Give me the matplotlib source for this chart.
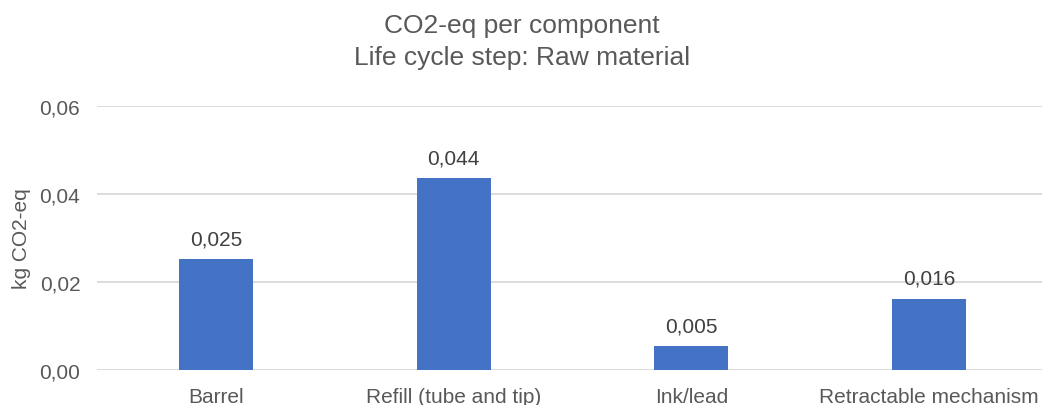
import matplotlib
matplotlib.use("Agg")
import matplotlib.pyplot as plt

plt.rcParams['font.family'] = ['Liberation Sans', 'DejaVu Sans']

components = ["Barrel", "Refill (tube and tip)", "Ink/lead", "Retractable mechanism"]
co2_eq = [0.0251, 0.0435, 0.0054, 0.0161]
value_labels = ["0,025", "0,044", "0,005", "0,016"]
y_ticks = [0.00, 0.02, 0.04, 0.06]
y_tick_labels = ["0,00", "0,02", "0,04", "0,06"]

W, H = 1042, 406
fig = plt.figure(figsize=(W / 100, H / 100), dpi=100)
# plot area in pixels: left 97, right ~1048, bottom 371, top 106.7
ax = fig.add_axes([97 / W, 35 / H, 951 / W, 264.3 / H])

x = range(len(components))
ax.bar(x, co2_eq, width=0.311, color="#4472C4", zorder=3)
for xi, v, lab in zip(x, co2_eq, value_labels):
    ax.annotate(lab, (xi, v), xytext=(0, 8), textcoords="offset points",
                ha="center", va="bottom", fontsize=15, color="#404040")

ax.set_xlim(-0.5, len(components) - 0.5)
ax.set_ylim(0, 0.06)
ax.set_yticks(y_ticks)
ax.set_yticklabels(y_tick_labels)
ax.set_xticks(list(x))
ax.set_xticklabels(components)
ax.tick_params(axis="both", length=0, labelsize=15, colors="#595959")
ax.tick_params(axis="y", pad=12)
ax.tick_params(axis="x", pad=12)
ax.grid(axis="y", color="#D9D9D9", linewidth=1.3, zorder=0)
for s in ax.spines.values():
    s.set_visible(False)
ax.set_ylabel("kg CO2-eq", fontsize=15, color="#595959", labelpad=6)

fig.text(0.5 + 1 / W, 1 - 26 / H, "CO2-eq per component", ha="center", va="center",
         fontsize=19, color="#595959")
fig.text(0.5 + 1 / W, 1 - 58 / H, "Life cycle step: Raw material", ha="center", va="center",
         fontsize=19, color="#595959")

fig.savefig("out.png", dpi=100)
